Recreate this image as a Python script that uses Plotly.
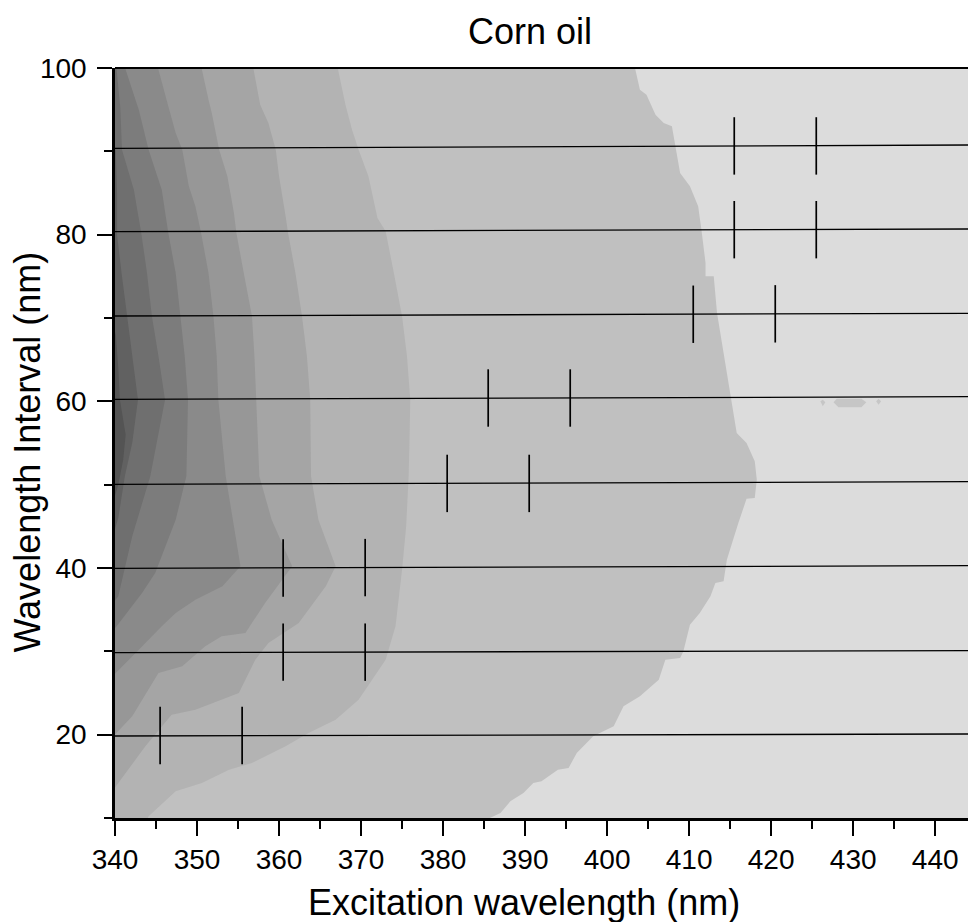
import plotly.graph_objects as go

# ---------------- data ----------------
# contour boundaries (x = excitation wavelength, y = wavelength interval), top -> bottom
L1_x = [403.4, 403.4, 404.0, 404.8, 405.9, 406.9, 407.9, 408.3, 408.9, 410.1, 411.1, 411.5, 412.0, 412.0, 413.0,
        413.4, 414.2, 415.0, 415.8, 417.0, 418.0, 418.25, 418.0, 417.0, 416.0, 414.6, 414.2, 413.2, 412.6, 411.3,
        410.1, 409.3, 408.9, 407.1, 406.3, 404.0, 402.0, 400.8, 398.3, 396.3, 395.3, 394.0, 392.0, 391.0, 389.8,
        388.2, 387.0, 385.7, 385.0]
L1_y = [101, 100, 97.4, 96.8, 94.4, 93.4, 93.0, 90.6, 87.4, 85.8, 83.4, 80.6, 76.6, 75.0, 75.0,
        70.6, 65.8, 60.6, 56.2, 55.0, 52.8, 50.6, 48.4, 48.3, 45.4, 41.0, 38.4, 38.2, 36.6, 34.6,
        33.2, 30.0, 29.2, 29.0, 26.6, 24.6, 23.4, 21.0, 19.8, 17.8, 16.0, 15.8, 14.4, 14.2, 13.0,
        12.0, 10.6, 10.0, 9.0]

L2_x = [367.2, 367.2, 368.1, 368.9, 369.7, 370.9, 372.0, 373.0, 374.0, 375.0, 375.6, 376.0, 375.9, 375.8, 375.5,
        375.0, 374.2, 373.0, 369.7, 366.9, 363.6, 360.8, 356.7, 353.9, 350.6, 347.4, 344.1, 343.5]
L2_y = [101, 99.8, 95.6, 92.6, 90.2, 87.0, 82.0, 80.4, 75.4, 70.2, 65.4, 60.2, 55.0, 51.0, 45.0,
        39.8, 33.0, 29.0, 24.2, 21.8, 20.2, 18.6, 16.6, 15.8, 14.2, 13.2, 10.2, 9.0]

L3_x = [356.9, 356.9, 357.7, 358.7, 359.6, 360.0, 360.8, 361.1, 362.0, 362.8, 363.4, 363.8, 363.9, 364.8, 366.9,
        365.7, 362.4, 358.7, 357.1, 355.1, 349.8, 346.9, 343.7, 340.4, 339.5]
L3_y = [101, 99.8, 95.6, 93.4, 90.2, 87.0, 82.2, 80.2, 75.4, 70.2, 65.4, 60.2, 51.0, 45.8, 40.2,
        37.8, 33.4, 31.0, 29.0, 25.0, 23.0, 22.4, 18.6, 14.2, 13.0]

L4_x = [350.6, 350.6, 351.4, 351.8, 352.7, 353.7, 354.5, 354.8, 355.7, 356.7, 357.0, 357.2, 357.6, 359.1, 361.6,
        358.3, 355.9, 353.0, 351.0, 348.2, 345.3, 342.1, 340.2, 339.5]
L4_y = [101, 99.8, 96.2, 94.6, 90.2, 87.0, 82.6, 80.2, 75.4, 70.2, 65.4, 60.2, 51.0, 45.8, 40.2,
        35.8, 32.2, 31.8, 30.6, 28.2, 27.4, 22.2, 20.2, 19.5]

L5_x = [345.3, 345.3, 346.5, 347.4, 348.2, 349.0, 349.8, 350.5, 351.4, 352.0, 352.4, 352.6, 353.5, 354.3, 355.3,
        353.1, 349.8, 347.4, 345.7, 342.9, 340.2, 339.5]
L5_y = [101, 99.8, 95.4, 92.2, 90.2, 85.8, 83.4, 80.2, 75.4, 70.2, 65.4, 60.2, 51.0, 46.0, 40.2,
        37.8, 36.2, 34.6, 33.0, 30.2, 27.4, 26.8]

L6_x = [341.3, 341.3, 342.9, 344.1, 345.7, 346.5, 347.4, 348.0, 348.5, 348.9, 348.7, 347.4, 344.9, 343.3, 340.2, 339.5]
L6_y = [101, 99.8, 95.0, 90.2, 85.4, 80.2, 75.4, 70.2, 65.4, 60.2, 51.0, 45.8, 39.4, 37.0, 33.0, 32.3]

L7_x = [340.0, 340.2, 340.65, 340.85, 342.3, 343.2, 343.9, 344.5, 345.3, 346.1, 344.3, 342.1, 340.4, 339.5]
L7_y = [101, 99.8, 95.2, 90.2, 85.4, 80.2, 75.4, 70.2, 65.4, 60.2, 51.0, 43.8, 36.6, 35.5]

L8_x = [339.5, 340.1, 340.25, 340.25, 340.85, 341.5, 342.2, 342.8, 342.1, 341.2, 340.4, 339.5]
L8_y = [93, 90, 85, 80, 75, 70, 65, 60.2, 55, 51, 46, 43]

L9_x = [339.5, 340.1, 340.4, 340.6, 341.3, 341.0, 340.4, 339.5]
L9_y = [70, 68, 64, 60.2, 56, 53, 50, 47]

# small island of the second level near 430 nm / 60 nm
isl_x = [427.6, 428.0, 431.0, 431.6, 431.0, 428.2, None, 426.0, 426.3, 426.6, 426.3, None, 432.8, 433.1, 433.4, 433.1]
isl_y = [59.9, 60.3, 60.3, 59.9, 59.3, 59.3, None, 60.0, 60.2, 59.9, 59.4, None, 60.0, 60.3, 60.0, 59.6]

band_colors = ["#dcdcdc", "#c0c0c0", "#b3b3b3", "#a5a5a5", "#979797",
               "#8a8a8a", "#7c7c7c", "#6f6f6f", "#616161", "#545454"]

# horizontal lines (one per wavelength interval), y at left (340 nm) and right (444 nm) ends
line_levels = [10, 20, 30, 40, 50, 60, 70, 80, 90, 100]
line_y_left = [9.3, 19.84, 29.84, 39.96, 50.04, 60.24, 70.24, 80.36, 90.36, 100.0]
line_y_right = [9.6, 20.08, 30.08, 40.28, 50.36, 60.56, 70.56, 80.68, 90.76, 100.1]

# vertical markers (peak positions)
mk_x = [365.5, 375.5, 345.5, 355.5, 360.5, 370.5, 360.5, 370.5, 380.5, 390.5,
        385.5, 395.5, 410.5, 420.5, 415.5, 425.5, 415.5, 425.5, 435.5]
mk_y = [9.3, 9.3, 19.9, 19.9, 29.9, 29.9, 40.0, 40.05, 50.15, 50.15,
        60.4, 60.4, 70.45, 70.5, 80.6, 80.6, 90.65, 90.65, 100.2]

x_ticks = [340, 350, 360, 370, 380, 390, 400, 410, 420, 430, 440]
y_ticks = [20, 40, 60, 80, 100]

# ---------------- figure ----------------
FONT = "Arial, 'Liberation Sans', sans-serif"
fig = go.Figure()

bounds = [(L1_x, L1_y), (L2_x, L2_y), (L3_x, L3_y), (L4_x, L4_y), (L5_x, L5_y),
          (L6_x, L6_y), (L7_x, L7_y), (L8_x, L8_y), (L9_x, L9_y)]
for k, (bx, by) in enumerate(bounds):
    px = list(bx) + [330, 330]
    py = list(by) + [by[-1], by[0]]
    fig.add_trace(go.Scatter(x=px, y=py, mode="lines", fill="toself",
                             fillcolor=band_colors[k + 1], line=dict(width=0),
                             hoverinfo="skip", showlegend=False))

fig.add_trace(go.Scatter(x=isl_x, y=isl_y, mode="lines", fill="toself",
                         fillcolor="#c6c6c6", line=dict(width=0),
                         hoverinfo="skip", showlegend=False))

for yl, yr in zip(line_y_left, line_y_right):
    fig.add_trace(go.Scatter(x=[340, 444], y=[yl, yr], mode="lines",
                             line=dict(color="black", width=1.3),
                             hoverinfo="skip", showlegend=False))

fig.add_trace(go.Scatter(x=mk_x, y=mk_y, mode="markers", cliponaxis=False,
                         marker=dict(symbol="line-ns", size=41,
                                     line=dict(color="black", width=1.7)),
                         hoverinfo="skip", showlegend=False))

axis_common = dict(showgrid=False, zeroline=False, showline=True, linecolor="black",
                   linewidth=2.5, ticks="outside", tickcolor="black", tickwidth=2.2,
                   tickfont=dict(family=FONT, size=28, color="black"))

fig.update_xaxes(range=[340, 444], tickvals=x_ticks, ticklen=15,
                 minor=dict(dtick=5, tick0=340, ticklen=8, tickwidth=2.2, tickcolor="black", ticks="outside"),
                 **axis_common)
fig.update_yaxes(range=[10, 100], tickvals=y_ticks, ticklen=15, ticklabelstandoff=5,
                 minor=dict(dtick=10, tick0=0, ticklen=8, tickwidth=2.2, tickcolor="black", ticks="outside"),
                 **axis_common)

fig.add_shape(type="line", xref="x", yref="paper", x0=340, x1=444, y0=1, y1=1,
              line=dict(color="black", width=2))

fig.add_annotation(text="Corn oil", xref="paper", yref="paper", x=0.486, y=1.0493,
                   xanchor="center", yanchor="middle", showarrow=False,
                   font=dict(family=FONT, size=36, color="black"))
fig.add_annotation(text="Excitation wavelength (nm)", xref="paper", yref="paper", x=0.479, y=-0.1125,
                   xanchor="center", yanchor="middle", showarrow=False,
                   font=dict(family=FONT, size=36, color="black"))
fig.add_annotation(text="Wavelength Interval (nm)", xref="paper", yref="paper", x=-0.1037, y=0.488,
                   xanchor="center", yanchor="middle", textangle=-90, showarrow=False,
                   font=dict(family=FONT, size=36, color="black"))

fig.update_layout(width=968, height=922, margin=dict(l=115, r=0, t=68, b=104),
                  plot_bgcolor=band_colors[0], paper_bgcolor="white", showlegend=False)

fig.write_html("out.html")
